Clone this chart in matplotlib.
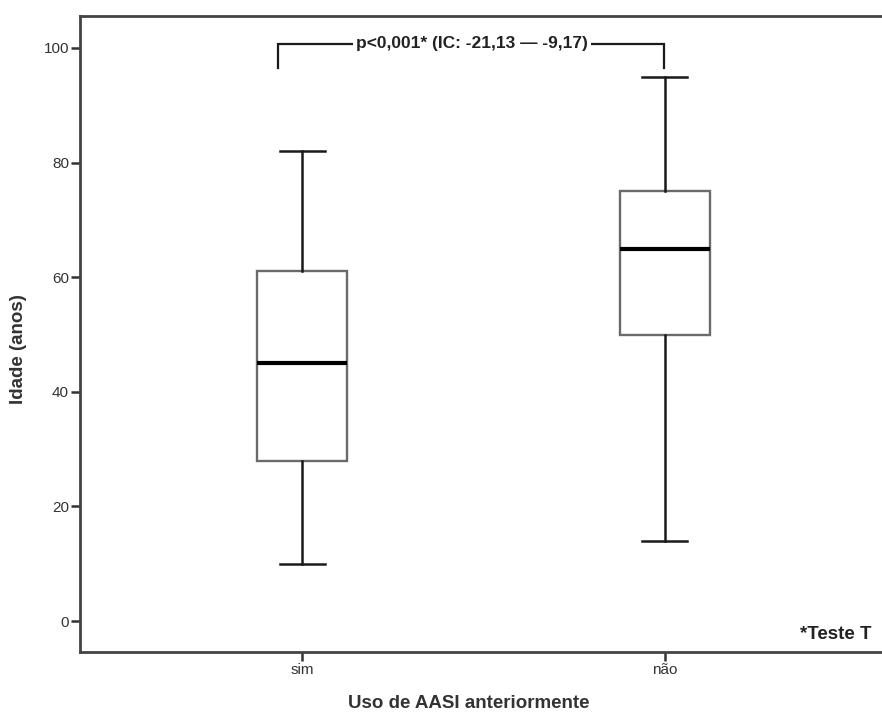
import matplotlib
matplotlib.use("Agg")
import matplotlib.pyplot as plt

plt.rcParams['font.family'] = ['Liberation Sans', 'DejaVu Sans']

# dados (idade em anos)
categorias = ['sim', 'não']
minimos = [10, 14]
q1 = [28, 50]
medianas = [45, 65]
q3 = [61, 75]
maximos = [82, 95]

texto_teste = 'p<0,001* (IC: -21,13 \u2014 -9,17)'
nota = '*Teste T'

fig = plt.figure(figsize=(8.82, 7.18), dpi=100)
ax = fig.add_axes([0.0907, 0.0919, 0.915, 0.886])

stats = []
for i, cat in enumerate(categorias):
    stats.append({'label': cat, 'whislo': minimos[i], 'q1': q1[i], 'med': medianas[i],
                  'q3': q3[i], 'whishi': maximos[i], 'fliers': []})

ax.bxp(stats, positions=[1, 2], widths=0.248, showfliers=False, patch_artist=True,
       boxprops=dict(facecolor='white', edgecolor='#6a6a6a', linewidth=1.7),
       medianprops=dict(color='black', linewidth=3),
       whiskerprops=dict(color='#1a1a1a', linewidth=1.8),
       capprops=dict(color='#1a1a1a', linewidth=1.8))

ax.set_xlim(0.388, 2.612)
ax.set_ylim(-5.4, 105.6)
ax.set_yticks([0, 20, 40, 60, 80, 100])
ax.set_xticks([1, 2])
ax.set_xticklabels(categorias)

for s in ['left', 'bottom', 'top']:
    ax.spines[s].set_color('#444444')
    ax.spines[s].set_linewidth(2)
ax.spines['right'].set_visible(False)
ax.tick_params(axis='both', length=6.5, width=1.8, color='#333333', labelsize=11,
               labelcolor='#333333', pad=1.5)

ax.set_ylabel('Idade (anos)', fontsize=13.5, fontweight='bold', color='#333333')
ax.yaxis.set_label_coords(-0.066, 0.476)
ax.set_xlabel('Uso de AASI anteriormente', fontsize=13.5, fontweight='bold', color='#333333')
ax.xaxis.set_label_coords(0.482, -0.068)

# colchete da comparacao
y_top, y_leg = 100.7, 96.5
ax.plot([0.934, 0.934, 1.997, 1.997], [y_leg, y_top, y_top, y_leg], color='#1a1a1a',
        linewidth=1.6, solid_joinstyle='miter')
ax.text(1.468, y_top, texto_teste, ha='center', va='center', fontsize=12.5,
        fontweight='bold', color='#222222',
        bbox=dict(facecolor='white', edgecolor='none', pad=2))

ax.text(2.57, -2.4, nota, ha='right', va='center', fontsize=13.5, fontweight='bold',
        color='#222222')

fig.savefig('out.png', dpi=100)
